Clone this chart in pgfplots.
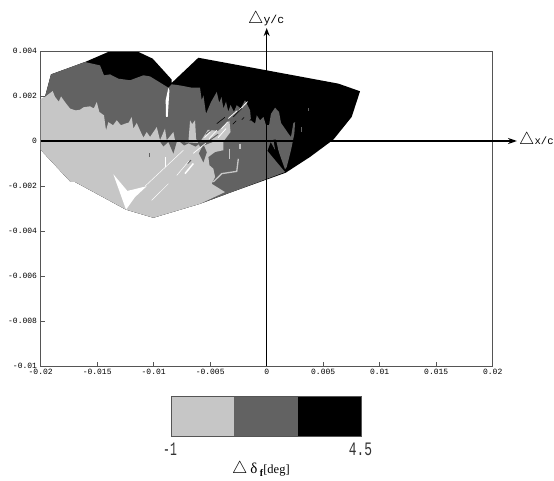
\documentclass[border=0pt]{standalone}
\usepackage{fontspec}
\usepackage{pgfplots}
\pgfplotsset{compat=1.18}
\usetikzlibrary{arrows.meta}
\setmainfont{Liberation Serif}
\newfontfamily\monof{Liberation Mono}
\definecolor{lg}{HTML}{C6C6C6}
\definecolor{dg}{HTML}{626262}
\definecolor{fr}{HTML}{555555}
\begin{document}
\begin{tikzpicture}[x=1pt,y=1pt]
\path[use as bounding box] (0,0) rectangle (554,480);
\begin{axis}[
  at={(40.7pt,114pt)},anchor=south west,
  scale only axis,width=452pt,height=315pt,
  xmin=-20,xmax=20,ymin=-10,ymax=4,
  clip=false,
  axis line style={fr,line width=0.9pt},
  xtick={-20,-15,-10,-5,0,5,10,15,20},
  xticklabels={-0.02,-0.015,-0.01,-0.005,0,0.005,0.01,0.015,0.02},
  ytick={-10,-8,-6,-4,-2,0,2,4},
  yticklabels={-0.01,-0.008,-0.006,-0.004,-0.002,0,0.002,0.004},
  xtick pos=bottom,ytick pos=left,
  tick align=inside,
  major tick length=4pt,
  tick style={fr,line width=0.8pt},
  tick label style={font=\fontsize{8}{8}\selectfont\monof,text=black},
  xticklabel style={inner sep=0pt,yshift=-3pt},
  yticklabel style={inner sep=0pt,xshift=-3.5pt},
]
% black level: whole envelope
\addplot[fill=black,draw=none] coordinates {
(-20.0,1.81)(-19.62,1.96)(-19.09,2.96)(-16.08,3.51)(-14.01,3.96)(-11.36,3.96)(-10.09,3.66)(-8.41,2.73)(-8.41,2.58)(-6.05,3.70)(0,3.14)(6.34,2.55)(8.26,2.21)(7.52,1.07)(5.90,0.06)(3.83,-0.71)(1.68,-1.41)(-3.10,-2.27)(-5.90,-2.79)(-10.03,-3.41)(-12.45,-3.05)(-16.96,-1.82)(-17.35,-1.82)(-20.0,-0.39)} --cycle;
% middle level
\addplot[fill=dg,draw=none] coordinates {
(-20.0,1.81)(-19.62,1.96)(-19.09,2.96)(-16.08,3.51)(-14.75,3.36)(-14.40,2.92)(-13.86,2.96)(-13.13,2.77)(-12.09,2.70)(-10.91,2.92)(-10.32,2.87)(-8.70,2.37)(-8.41,2.52)(-7.67,2.47)(-6.64,2.37)(-5.90,2.37)(-5.75,1.81)(-5.60,2.03)(-5.37,1.21)(-4.93,1.73)(-4.42,2.18)(-4.2,1.7)(-4.0,1.95)(-3.83,1.44)(-3.6,1.75)(-3.4,1.3)(-3.2,1.6)(-2.9,1.3)(-2.65,1.59)(-2.3,1.45)(-1.92,1.81)(-1.6,1.5)(-1.47,1.36)(-1.39,0.92)(-1.03,0.77)(-0.88,1.14)(-0.59,0.92)(-0.29,1.07)(-0.06,0.70)(0.21,0.70)(0.38,1.21)(0.74,1.48)(1.09,1.29)(1.27,0.80)(1.62,0.55)(1.92,0.33)(2.15,0.18)(2.36,0.80)(2.51,0.84)(2.45,0.33)(2.15,-0.41)(1.77,-1.16)(1.62,-1.26)(1.18,-0.64)(1.03,-0.41)(0.83,0.06)(0.59,0.06)(0.74,-0.39)(0.35,-0.04)(0.06,-0.44)(1.62,-1.38)(-3.10,-2.27)(-5.90,-2.79)(-10.03,-3.41)(-12.45,-3.05)(-16.96,-1.82)(-17.35,-1.82)(-20.0,-0.39)} --cycle;
\addplot[dg,line width=0.8pt] coordinates {(3.10,0.62)(3.10,0.40)};
\addplot[dg,line width=0.7pt] coordinates {(3.70,1.45)(3.70,1.35)};
% low level
\addplot[fill=lg,draw=none] coordinates {
(-20,1.87)(-19.62,1.96)(-18.94,2.22)(-18.73,1.96)(-18.4,1.75)(-18.2,1.98)(-17.85,1.73)(-17.40,1.44)(-16.9,1.36)(-16.52,1.39)(-16.2,1.5)(-15.63,1.54)(-15.3,1.45)(-15.04,1.73)(-14.81,1.29)(-14.40,1.14)(-14.22,0.47)(-14.01,0.84)(-13.6,0.7)(-13.27,0.92)(-12.9,0.7)(-12.54,0.77)(-12.2,0.82)(-11.95,1.07)(-11.80,0.55)(-11.5,0.8)(-11.21,0.47)(-10.91,0.15)(-10.62,0.40)(-10.32,0.18)(-9.73,0.62)(-9.44,0.03)(-9.0,0.55)(-8.85,0.03)(-8.26,0.40)(-8.11,0.03)(-6.93,-0.04)(-6.78,0.92)(-6.6,0.75)(-6.34,0.92)(-6.25,0.10)(-5.90,-0.27)(-4.72,-0.04)(-3.83,-0.04)(-3.83,-0.41)(-4.57,-0.49)(-5.16,-0.71)(-5.07,-1.08)(-4.72,-1.23)(-4.57,-1.60)(-4.87,-1.90)(-3.69,-2.27)(-5.90,-2.79)(-10.03,-3.41)(-12.45,-3.05)(-16.96,-1.82)(-17.35,-1.82)(-20.0,-0.39)} --cycle;
\addplot[fill=lg,draw=none] coordinates {(-5.9,-0.05)(-5.2,0.5)(-4.3,0.45)(-3.3,0.9)(-3.2,0.4)(-3.8,0.0)} --cycle;
\addplot[lg,line width=1.3pt] coordinates {(-4.72,-1.82)(-3.98,-1.45)(-2.65,-1.35)(-2.51,-0.79)};
\addplot[lg,line width=1.3pt] coordinates {(-3.30,-0.34)(-3.30,-0.79)};
\addplot[lg,line width=1.1pt] coordinates {(-2.36,-0.12)(-2.36,-0.34)};
% dark patches in the low level
\addplot[fill=dg,draw=none] coordinates {(-9.44,-0.03)(-9.14,-0.24)(-8.70,-0.04)(-8.26,-0.56)(-7.96,-0.04)} --cycle;
\addplot[fill=dg,draw=none] coordinates {(-7.67,-0.04)(-7.3,-0.2)(-6.9,-0.1)(-6.3,-0.25)(-5.9,-0.1)} --cycle;
\addplot[fill=dg,draw=none] coordinates {(-6.0,-0.55)(-5.6,-0.15)(-5.3,-0.5)(-5.6,-0.95)} --cycle;
\addplot[dg,line width=1pt] coordinates {(-5.0,0.05)(-4.3,0.3)};
\addplot[dg,line width=1pt] coordinates {(-5.4,0.3)(-4.9,0.5)};
\addplot[dg,line width=1pt] coordinates {(-10.4,-0.55)(-10.4,-0.72)};
\addplot[dg,line width=1pt] coordinates {(-7.0,-1.0)(-6.7,-0.85)};
% white gaps
\addplot[fill=white,draw=none] coordinates {(-13.57,-1.48)(-12.45,-3.05)(-11.65,-2.49)(-10.62,-2.01)(-12.33,-2.22)} --cycle;
\addplot[fill=white,draw=none] coordinates {(-8.70,2.37)(-8.94,1.81)(-8.91,1.07)(-8.76,1.07)(-8.61,2.25)} --cycle;
\addplot[white,line width=0.5pt] coordinates {(-10.77,-2.01)(-7.37,-0.41)};
\addplot[white,line width=0.4pt] coordinates {(-8.94,-0.71)(-8.94,-1.16)};
\addplot[white,line width=0.5pt] coordinates {(-10.18,-2.64)(-8.70,-1.90)};
\addplot[white,line width=1.5pt] coordinates {(-7.23,-1.45)(-6.49,-1.0)};
\addplot[white,line width=0.5pt] coordinates {(-7.96,-1.53)(-6.9,-0.9)};
\addplot[white,line width=0.7pt] coordinates {(-6.5,-0.55)(-5.4,-0.1)};
\addplot[white,line width=0.7pt] coordinates {(-5.1,0.1)(-4.42,0.47)};
\addplot[white,line width=0.7pt] coordinates {(-5.5,0.15)(-5.0,0.4)};
\addplot[white,line width=0.8pt] coordinates {(-4.3,0.15)(-3.6,0.55)};
\addplot[white,line width=0.7pt] coordinates {(-4.0,0.55)(-3.45,0.85)};
\addplot[white,line width=0.8pt] coordinates {(-3.4,1.0)(-2.6,1.35)};
\addplot[white,line width=0.8pt] coordinates {(-2.45,1.35)(-1.7,1.75)};
\addplot[black,line width=0.6pt] coordinates {(-4.42,0.77)(-3.7,1.05)};
\addplot[black,line width=0.5pt] coordinates {(-2.95,1.07)(-2.2,1.45)};
\addplot[black,line width=0.6pt] coordinates {(-3.0,0.75)(-2.7,0.9)};
\addplot[black,line width=0.6pt] coordinates {(-2.2,0.95)(-2.0,1.05)};
\addplot[black,line width=0.6pt] coordinates {(-1.5,0.9)(-1.35,1.0)};
% axes through the origin
\addplot[black,line width=1.3pt,-{Stealth[length=8pt,width=6pt]}] coordinates {(0,-10)(0,5.02)};
\addplot[black,line width=1.3pt,-{Stealth[length=9pt,width=6pt]}] coordinates {(-20,0)(22.15,0)};
\end{axis}
% colour key
\begin{axis}[
  at={(171pt,44pt)},anchor=south west,
  scale only axis,width=190pt,height=39.3pt,
  xmin=-1,xmax=4.5,ymin=0,ymax=1,
  ticks=none,
  axis line style={fr,line width=0.9pt},
  axis on top,
]
\addplot[fill=lg,draw=none] coordinates {(-1,0)(0.833,0)(0.833,1)(-1,1)} --cycle;
\addplot[fill=dg,draw=none] coordinates {(0.833,0)(2.667,0)(2.667,1)(0.833,1)} --cycle;
\addplot[fill=black,draw=none] coordinates {(2.667,0)(4.5,0)(4.5,1)(2.667,1)} --cycle;
\end{axis}
\node[inner sep=0pt,text=black!80] at (170,31) {\fontsize{19}{19}\selectfont\monof\scalebox{0.6}[1]{-1}};
\node[inner sep=0pt,text=black!80] at (360.5,31) {\fontsize{19}{19}\selectfont\monof\scalebox{0.68}[1]{4.5}};
\node[inner sep=0pt,anchor=base west,text=black] at (232,6.5) {\fontsize{17}{17}\selectfont $\triangle$\,\fontsize{15}{15}\selectfont δ\,{\fontsize{10}{10}\selectfont\raisebox{-3pt}{\bfseries f}}\fontsize{12.5}{12.5}\selectfont[deg]};
\node[inner sep=0pt,anchor=base west,text=black] at (248,456) {\fontsize{17}{17}\selectfont $\triangle$\fontsize{11.5}{11.5}\selectfont\monof y/c};
\node[inner sep=0pt,anchor=base west,text=black] at (519,335) {\fontsize{17}{17}\selectfont $\triangle$\fontsize{10.6}{10.6}\selectfont\monof x/c};
\end{tikzpicture}
\end{document}
